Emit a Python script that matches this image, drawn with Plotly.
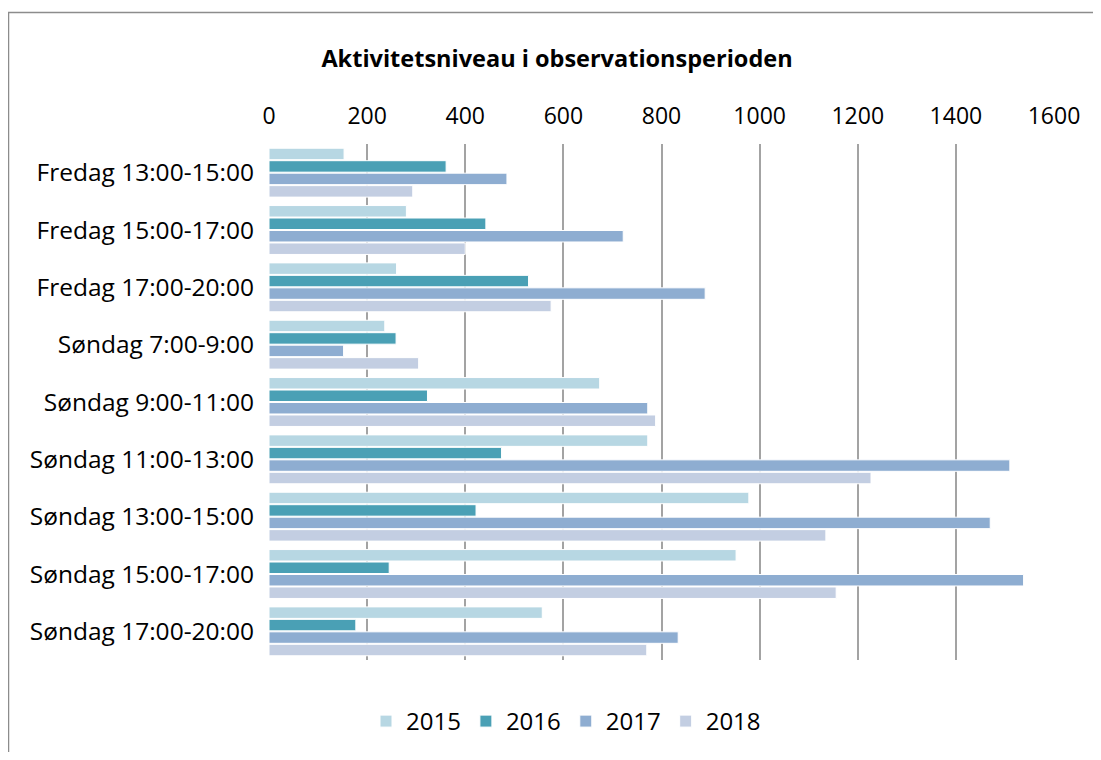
import plotly.graph_objects as go

categories = [
    "Fredag 13:00-15:00",
    "Fredag 15:00-17:00",
    "Fredag 17:00-20:00",
    "Søndag 7:00-9:00",
    "Søndag 9:00-11:00",
    "Søndag 11:00-13:00",
    "Søndag 13:00-15:00",
    "Søndag 15:00-17:00",
    "Søndag 17:00-20:00",
]
years = ["2015", "2016", "2017", "2018"]
v2015 = [153, 280, 260, 236, 674, 772, 978, 952, 557]
v2016 = [361, 442, 529, 259, 323, 474, 422, 245, 177]
v2017 = [485, 722, 889, 152, 772, 1510, 1470, 1538, 834]
v2018 = [293, 400, 575, 305, 788, 1227, 1135, 1156, 770]
series = [v2015, v2016, v2017, v2018]
colors = ["#B7D7E3", "#4AA0B5", "#8EADD1", "#C3CEE2"]
tick_vals = [0, 200, 400, 600, 800, 1000, 1200, 1400, 1600]

FONT = "Open Sans"

fig = go.Figure()
for name, vals, col in zip(years, series, colors):
    fig.add_trace(go.Bar(
        name=name, y=categories, x=vals, orientation="h",
        marker=dict(color=col, line=dict(color="white", width=1)),
    ))

W, H = 1085, 744
L, R, T, B = 261, 39, 136, 92
pw, ph = W - L - R, H - T - B

def px_x(p):
    return (p - L) / pw

def px_y(p):
    return (H - B - p) / ph

fig.update_layout(
    width=W, height=H,
    margin=dict(l=L, r=R, t=T, b=B, autoexpand=False),
    paper_bgcolor="white", plot_bgcolor="white",
    barmode="group", bargap=0.13, bargroupgap=0.08,
    font=dict(family=FONT, color="black", size=22),
    title=dict(text="<b>Aktivitetsniveau i observationsperioden</b>",
               x=549 / W, xanchor="center", y=1 - 51 / H, yanchor="middle",
               font=dict(family=FONT, size=23.5, color="black")),
    xaxis=dict(side="top", range=[0, 1600], tickvals=tick_vals,
               showgrid=True, gridcolor="#A3A3A3", gridwidth=2,
               zeroline=False, showline=False, ticks="",
               ticklabelstandoff=14,
               tickfont=dict(family=FONT, size=23, color="black")),
    yaxis=dict(autorange="reversed", showgrid=False, ticks="",
               showline=False, ticklabelstandoff=14,
               tickfont=dict(family=FONT, size=24.5, color="black")),
    legend=dict(orientation="h", x=558 / W, xref="container", xanchor="center",
                y=1 - 713.5 / H, yref="container", yanchor="middle",
                font=dict(family=FONT, size=24, color="black"),
                itemwidth=30, traceorder="normal"),
    shapes=[dict(type="rect", xref="paper", yref="paper",
                 x0=px_x(0.5), x1=px_x(1110), y0=px_y(780), y1=px_y(4.5),
                 line=dict(color="#8C8C8C", width=1.5), fillcolor="rgba(0,0,0,0)",
                 layer="below")],
)

fig.write_html("out.html")
